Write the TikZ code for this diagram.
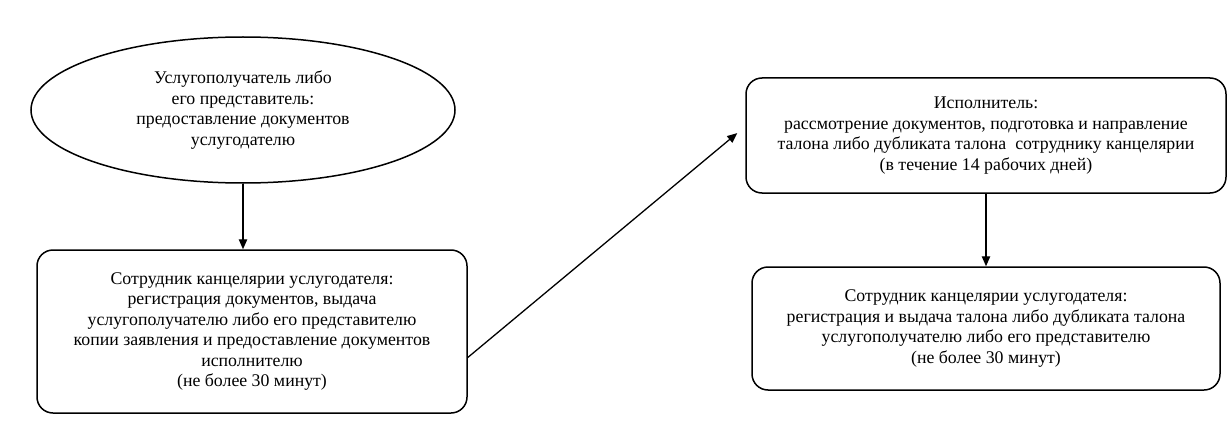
\documentclass[tikz,border=0pt]{standalone}
\usepackage{fontspec}
\setmainfont{Liberation Serif}
\usetikzlibrary{shapes.geometric,arrows.meta}
\tikzstyle{startnode}=[ellipse,draw,line width=0.75pt,inner sep=0pt,minimum width=212pt,minimum height=73pt,align=center,font=\fontsize{8.9}{10.2}\selectfont]
\tikzstyle{stepbox}=[rectangle,draw,rounded corners=8pt,line width=0.75pt,inner sep=0pt,align=center,font=\fontsize{8.9}{10.2}\selectfont]
\tikzstyle{arr}=[-{Triangle[length=5pt,width=4.2pt]},line width=0.65pt]

\begin{document}
\begin{tikzpicture}[x=0.5pt,y=-0.5pt]
\useasboundingbox (0,0) rectangle (1230,444);

\node[startnode] (1) at (243, 110) {Услугополучатель либо\\его представитель:\\предоставление документов\\услугодателю};
\node[stepbox, minimum width=215pt, minimum height=81.5pt] (2) at (252, 331.5)
  {Сотрудник канцелярии услугодателя:\\регистрация документов, выдача\\услугополучателю либо его представителю\\копии заявления и предоставление документов\\исполнителю\\(не более 30 минут)};
\node[stepbox, minimum width=240pt, minimum height=57.5pt] (3) at (986, 135.5)
  {Исполнитель:\\рассмотрение документов, подготовка и направление\\талона либо дубликата талона\ \ сотруднику канцелярии\\(в течение 14 рабочих дней)};
\node[stepbox, minimum width=234pt, minimum height=61.5pt] (4) at (986, 328.5)
  {Сотрудник канцелярии услугодателя:\\регистрация и выдача талона либо дубликата талона\\услугополучателю либо его представителю\\(не более 30 минут)};

\draw[arr] (1.south) -- (1.south |- 2.north);
\draw[arr] ([yshift=-13pt]2.east) -- ([xshift=-4pt,yshift=1.2pt]3.west);
\draw[arr] (3.south) -- (3.south |- 4.north);

\end{tikzpicture}
\end{document}
